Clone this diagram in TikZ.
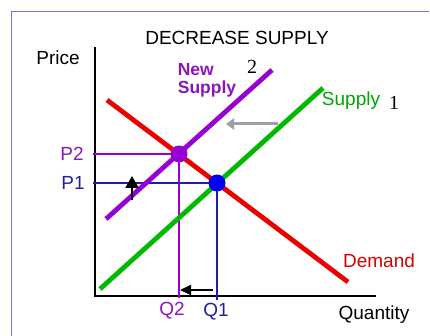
\documentclass[tikz,border=0pt]{standalone}
\usepackage{fontspec}
\setmainfont{Liberation Sans}
\newfontfamily\serifnum{Liberation Serif}
\usetikzlibrary{arrows.meta}
\definecolor{framec}{RGB}{140,110,190}
\definecolor{dred}{RGB}{235,0,0}
\definecolor{sgreen}{RGB}{0,185,0}
\definecolor{npurple}{RGB}{150,0,210}
\definecolor{dblue}{RGB}{0,0,250}
\definecolor{tblue}{RGB}{30,30,170}
\definecolor{tpurple}{RGB}{140,20,190}
\definecolor{agray}{RGB}{160,160,160}
\tikzset{
  curve/.style={line width=4.8pt},
  guide/.style={line width=1.5pt},
  lbl/.style={inner sep=0pt, font=\fontsize{19}{21}\selectfont},
  num/.style={inner sep=0pt, font=\serifnum\fontsize{20}{21}\selectfont},
  eqdot/.style={circle, inner sep=0pt, minimum size=17pt},
  pt/.style={inner sep=0pt, minimum size=0pt}
}
\begin{document}
\begin{tikzpicture}[x=1pt,y=-1pt]
\useasboundingbox (0,0) rectangle (430,336);
% frame
\coordinate (fTR) at (429,11.5);
\coordinate (fTL) at (11.5,11.5);
\coordinate (fBL) at (11.5,336);
\draw[framec, line width=1.5pt] (fTR) -- (fTL) -- (fBL);
% title and axis labels
\node[lbl] (title) at (237,38) {DECREASE SUPPLY};
\node[lbl] (price) at (58,58) {Price};
\node[lbl] (qty) at (374,315) {Quantity};
% axes
\coordinate (ytop) at (95,47);
\coordinate (org) at (95,296);
\coordinate (xend) at (376,296);
\draw[black, line width=2pt] (ytop) -- (org) -- (xend);
% equilibrium points
\coordinate (E2) at (179,154);
\coordinate (E1) at (217,183);
\coordinate (P2a) at (93,154);
\coordinate (P1a) at (93,183);
\coordinate (Q2a) at (179,298);
\coordinate (Q1a) at (217,300);
% guide lines
\draw[npurple, guide] (P2a) -- (E2) -- (Q2a);
\draw[tblue, guide] (P1a) -- (E1) -- (Q1a);
% curves
\coordinate (d1) at (107,100);
\coordinate (d2) at (348,282);
\coordinate (s1) at (100,289);
\coordinate (s2) at (323,88);
\coordinate (n1) at (106,219);
\coordinate (n2) at (272,70);
\draw[dred, curve] (d1) -- (d2);
\draw[sgreen, curve] (s1) -- (s2);
\draw[npurple, curve] (n1) -- (n2);
% dots
\node[eqdot, fill=npurple] (dotE2) at (E2) {};
\node[eqdot, fill=dblue] (dotE1) at (E1) {};
% labels
\node[lbl, text=tpurple] (lP2) at (72,154) {P2};
\node[lbl, text=tblue] (lP1) at (73,183) {P1};
\node[lbl, text=tpurple] (lQ2) at (172,311) {Q2};
\node[lbl, text=tblue] (lQ1) at (216,312) {Q1};
\node[lbl, text=dred!90!black] (lD) at (379,261) {Demand};
\node[lbl, text=sgreen!90!black] (lS) at (351,101) {Supply};
\node[num] (n1l) at (394,103) {1};
\node[lbl, text=tpurple, font=\bfseries\fontsize{17.5}{18}\selectfont, align=left] (lNS) at (207,80) {New\\Supply};
\node[num] (n2l) at (252,67) {2};
% shift arrows
\coordinate (ga1) at (278,124);
\coordinate (ga2) at (226,124);
\draw[agray, line width=3pt, -{Triangle[length=8pt,width=11pt]}] (ga1) -- (ga2);
\coordinate (ua1) at (132,200);
\coordinate (ua2) at (132,176);
\draw[black, line width=2pt, -{Triangle[length=12pt,width=13pt]}] (ua1) -- (ua2);
\coordinate (la1) at (213,290);
\coordinate (la2) at (180,290);
\draw[black, line width=2pt, -{Triangle[length=11pt,width=10pt]}] (la1) -- (la2);
\end{tikzpicture}
\end{document}
